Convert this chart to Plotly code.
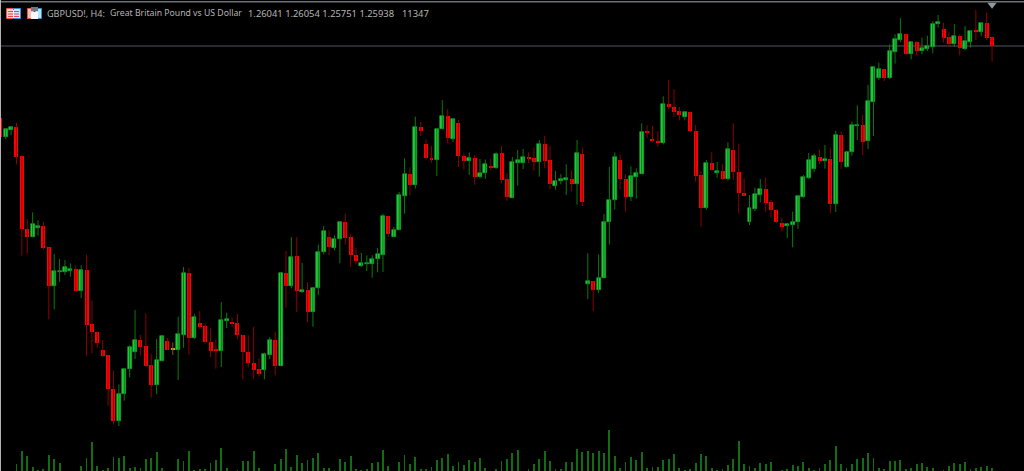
import numpy as np
import plotly.graph_objects as go

# Prices in points (1 point = 0.00001)
open_pts = [
125074,124842,124930,124962,124614,123746,123646,123750,123774,123522,
123058,123230,123230,123238,123262,122998,123254,122598,122510,122286,
122230,121818,121438,121762,122062,122262,122414,122338,122106,121874,
122162,122398,122298,122294,122470,123214,122438,122614,122578,122386,
122290,122278,122642,122614,122614,122470,122266,122138,122058,122050,
122230,122406,122102,123210,123062,123422,122990,123014,122750,123034,
123466,123650,123514,123622,123822,123642,123430,123298,123322,123326,
123378,123430,123894,123650,123730,124138,124402,124274,124962,124762,
124598,124574,124938,125098,124818,125010,124614,124558,124594,124362,
124414,124486,124474,124650,124338,124118,124534,124538,124606,124590,
124542,124766,124566,124262,124314,124330,124346,124278,124646,123078,
123114,123014,123158,123826,124094,124566,124342,124122,124370,124406,
124914,124818,124798,124770,125238,125210,125158,125090,125142,124918,
124386,123990,124530,124410,124434,124338,124694,124422,124174,123826,
123982,124154,124222,124062,123970,123810,123774,123790,123822,124130,
124358,124466,124610,124558,124582,124042,124866,124490,124662,124978,
124990,124798,125270,125554,125658,125558,125866,126010,126078,125842,
125986,125874,125906,125930,126202,126142,126042,125958,126058,125906,
125990,126130,126110,126214,126041]
high_pts = [
125074,124942,124970,125018,124626,123858,123942,123846,123826,123522,
123442,123382,123370,123330,123306,123306,123434,122882,122514,122410,
122230,122042,121878,122070,122346,122770,122470,122730,122242,122422,
122458,122434,122382,122690,123286,123278,122722,122758,122610,122550,
122422,122866,122738,122682,122722,122474,122466,122570,122190,122258,
122446,122510,123222,123478,123646,123646,123334,123102,123046,123554,
123778,123726,123666,123830,123926,123678,123514,123454,123426,123426,
123514,123926,123898,123766,124186,124590,124482,125090,125026,124818,
124738,124950,125290,125182,125074,125050,124650,124662,124626,124582,
124574,124590,124662,124738,124410,124606,124690,124702,124662,124722,
124810,124858,124738,124438,124402,124518,124446,124810,124718,123450,
123114,123438,123922,124486,124662,124638,124398,124494,124470,125010,
124986,124978,124914,125334,125530,125422,125206,125158,125150,124990,
124438,124570,124662,124546,124518,124782,125010,124766,124350,124150,
124238,124342,124358,124090,123978,123878,123806,123950,124138,124390,
124654,124646,124694,124750,124718,124922,124914,124682,125030,125226,
125114,125470,125690,125738,125670,125958,126078,126274,126090,125994,
125994,126038,126062,126234,126310,126218,126102,126202,126078,126178,
126130,126370,126218,126342,126054]
low_pts = [
124850,124818,124866,124518,123422,123442,123642,123662,123498,122658,
122778,123106,123190,123170,122998,122914,122222,122254,122318,122202,
121622,121398,121378,121682,121962,122182,122226,122086,121718,121762,
122154,122290,122230,121930,122318,122234,122422,122562,122366,122206,
122066,122086,122554,122570,122418,121938,122082,121942,121970,121938,
122178,121986,122102,122798,123030,122746,122978,122626,122570,122950,
123438,123430,123486,123330,123554,123290,123318,123290,123238,123158,
123222,123226,123650,123646,123726,123926,124146,124226,124858,124578,
124538,124378,124938,124770,124786,124486,124458,124390,124274,124346,
124346,124446,124466,124290,124082,124118,124262,124462,124534,124438,
124370,124470,124222,124214,124278,124150,124194,124034,124018,122902,
122758,122974,123158,123554,123974,124222,123950,124078,124106,124406,
124834,124790,124730,124758,125174,125086,125046,125046,124906,124310,
123774,123974,124446,124358,124330,124322,124330,123926,124134,123790,
123958,124062,123950,123878,123810,123718,123634,123522,123742,124118,
124342,124422,124518,124466,123930,123946,124462,124478,124622,124810,
124630,124702,124858,125530,125518,125542,125726,125986,125838,125778,
125830,125838,125878,125850,126158,125978,125922,125926,125826,125890,
125918,126010,126058,126010,125751]
close_pts = [
124850,124938,124962,124610,123742,123646,123802,123774,123518,123058,
123238,123238,123286,123266,122998,123254,122594,122506,122370,122218,
121822,121438,121766,122066,122326,122414,122326,122102,121874,122170,
122454,122294,122298,122478,123210,122438,122682,122566,122382,122278,
122282,122650,122666,122606,122466,122266,122134,122050,122002,122238,
122410,122102,123214,123062,123406,123002,123014,122750,123038,123466,
123714,123526,123626,123822,123638,123426,123354,123330,123338,123386,
123442,123898,123682,123730,124146,124402,124274,124962,124922,124594,
124574,124946,125098,124834,125066,124618,124558,124598,124362,124410,
124522,124478,124646,124330,124122,124542,124570,124606,124582,124542,
124766,124562,124278,124322,124342,124350,124278,124650,124070,123114,
123014,123158,123830,124094,124606,124342,124122,124378,124410,124910,
124890,124794,124770,125238,125206,125150,125110,125142,124914,124374,
123994,124530,124450,124434,124342,124698,124426,124170,124138,123990,
124158,124226,124058,123970,123822,123770,123798,123826,124134,124370,
124570,124614,124558,124582,124042,124870,124542,124670,124994,124994,
124790,125278,125682,125658,125554,125878,126022,126078,125846,125986,
125874,125914,125934,126198,126222,126038,125962,126058,125918,125994,
126118,126114,126214,126030,125938]
# Tick volume, in lots of 1400 ticks
volume_lots = [
0,0,0,20,60,44,12,1,6,48,
36,24,0,0,0,16,39,86,16,3,
8,41,39,44,8,12,10,36,39,56,
9,0,0,36,29,59,2,5,4,24,
34,69,9,0,3,29,29,60,9,0,
0,20,35,65,12,48,24,34,39,53,
8,10,3,35,28,44,6,2,4,24,
28,62,14,0,26,48,22,42,6,6,
12,34,40,50,16,26,18,34,26,39,
10,0,4,30,36,54,62,0,4,22,
36,59,30,4,4,26,26,65,56,60,
54,60,53,123,44,8,28,41,34,58,
10,12,12,34,36,51,8,2,6,24,
51,44,10,2,6,18,36,90,22,14,
9,24,22,28,0,1,6,18,16,26,
10,2,8,20,34,74,20,8,20,36,
38,55,38,8,4,30,30,34,4,8,
20,24,12,8,0,1,14,24,20,28,
4,8,12,16,8]
header_parts = ["GBPUSD!, H4:", "Great Britain Pound vs US Dollar", "1.26041 1.26054 1.25751 1.25938", "11347"]

W, H = 1024, 471
o = np.array(open_pts) / 1e5
h = np.array(high_pts) / 1e5
l = np.array(low_pts) / 1e5
c = np.array(close_pts) / 1e5
v = np.array(volume_lots) * 1400.0
xs = np.arange(len(o))

GREEN, GREEN_EDGE, GREEN_WICK = "#22cc40", "#18a834", "#0a7a0a"
RED, RED_WICK = "#ff0000", "#8c0000"
AMBER, AMBER_WICK = "#c8a030", "#7a5a10"


def wicks(mask, color):
    wx, wy = [], []
    for i in np.where(mask)[0]:
        wx += [int(i), int(i), None]
        wy += [float(l[i]), float(h[i]), None]
    return go.Scatter(x=wx, y=wy, mode="lines", line=dict(color=color, width=1),
                      hoverinfo="skip", showlegend=False)


def bodies(mask, color, edge):
    return go.Bar(x=xs[mask], y=np.maximum(np.abs(c[mask] - o[mask]), 0.00014),
                  base=np.minimum(o[mask], c[mask]), width=0.74,
                  marker=dict(color=color, line=dict(color=edge, width=0.6 if edge != color else 0)),
                  showlegend=False)


up, down, flat = c > o, c < o, c == o
fig = go.Figure()
fig.add_trace(go.Bar(x=xs, y=v, width=0.16, yaxis="y2", marker=dict(color="#126c12", line=dict(width=0)),
                     showlegend=False))
for mask, wc in ((up, GREEN_WICK), (down, RED_WICK), (flat, AMBER_WICK)):
    fig.add_trace(wicks(mask, wc))
fig.add_trace(bodies(up, GREEN, GREEN_EDGE))
fig.add_trace(bodies(down, RED, RED))
fig.add_trace(bodies(flat, AMBER, AMBER))
# Marker above the last bar
fig.add_trace(go.Scatter(x=[len(o) - 1], y=[1.26434], mode="markers",
                         marker=dict(symbol="triangle-down", size=8, color="#8c98a4", line=dict(width=0)),
                         hoverinfo="skip", showlegend=False))


def px_rect(x0, y0, x1, y1, fill, line=None):
    return dict(type="rect", xref="paper", yref="paper", x0=x0 / W, x1=x1 / W,
                y0=1 - y0 / H, y1=1 - y1 / H, fillcolor=fill,
                line=dict(width=0 if line is None else 1, color=line or fill), layer="above")


shapes = [
    px_rect(0, 1, W, 2.4, "#6e7276"),            # top frame
    px_rect(0, 0, 1, H, "#b4b4b4"),              # left frame
    dict(type="line", xref="paper", yref="y", x0=0, x1=1, y0=c[-1], y1=c[-1],
         line=dict(color="#4c5660", width=1.2), layer="below"),
    # table icon
    px_rect(6.5, 8.5, 13.5, 18.5, "#ffd0d0", "#f05050"),
    px_rect(13.5, 8.5, 20.5, 18.5, "#cfe6fa", "#2f8fd8"),
    px_rect(8, 11, 19, 12, "#e84848"),
    px_rect(8, 13.5, 19, 14.5, "#e84848"),
    px_rect(8, 16, 19, 17, "#e84848"),
    px_rect(13, 10, 14, 18, "#f4f4f4"),
    # save icon
    px_rect(27.5, 8.5, 34, 18.5, "#ffb8b8", "#e85050"),
    px_rect(35, 8.5, 41.5, 18.5, "#bfe0fa", "#2f8fd8"),
    px_rect(31, 12, 38, 19, "#f8f8f8"),
    px_rect(31, 7, 38, 11, "#707880"),
]

part_x = [45, 108, 246, 400]
part_size = [9.1, 8.7, 9.4, 9.4]
annotations = [dict(text=t, xref="paper", yref="paper", x=px / W, y=1 - 13.5 / H,
                    xanchor="left", yanchor="middle", showarrow=False,
                    font=dict(family="Noto Sans", size=s, color="#b4b4b4"))
               for t, px, s in zip(header_parts, part_x, part_size)]

fig.update_layout(
    width=W, height=H, margin=dict(l=0, r=0, t=0, b=0),
    paper_bgcolor="#000000", plot_bgcolor="#000000", barmode="overlay", bargap=0, showlegend=False,
    xaxis=dict(range=[-0.056, 189.93], visible=False, fixedrange=True),
    yaxis=dict(range=[1.20838, 1.26490], visible=False, fixedrange=True),
    yaxis2=dict(range=[0, 471 * 4200], visible=False, overlaying="y", fixedrange=True),
    shapes=shapes,
    annotations=annotations,
)
fig.write_html("out.html", config={"displayModeBar": False},
               post_script="document.body.style.margin='0';document.body.style.background='#000';document.body.style.overflow='hidden';")
